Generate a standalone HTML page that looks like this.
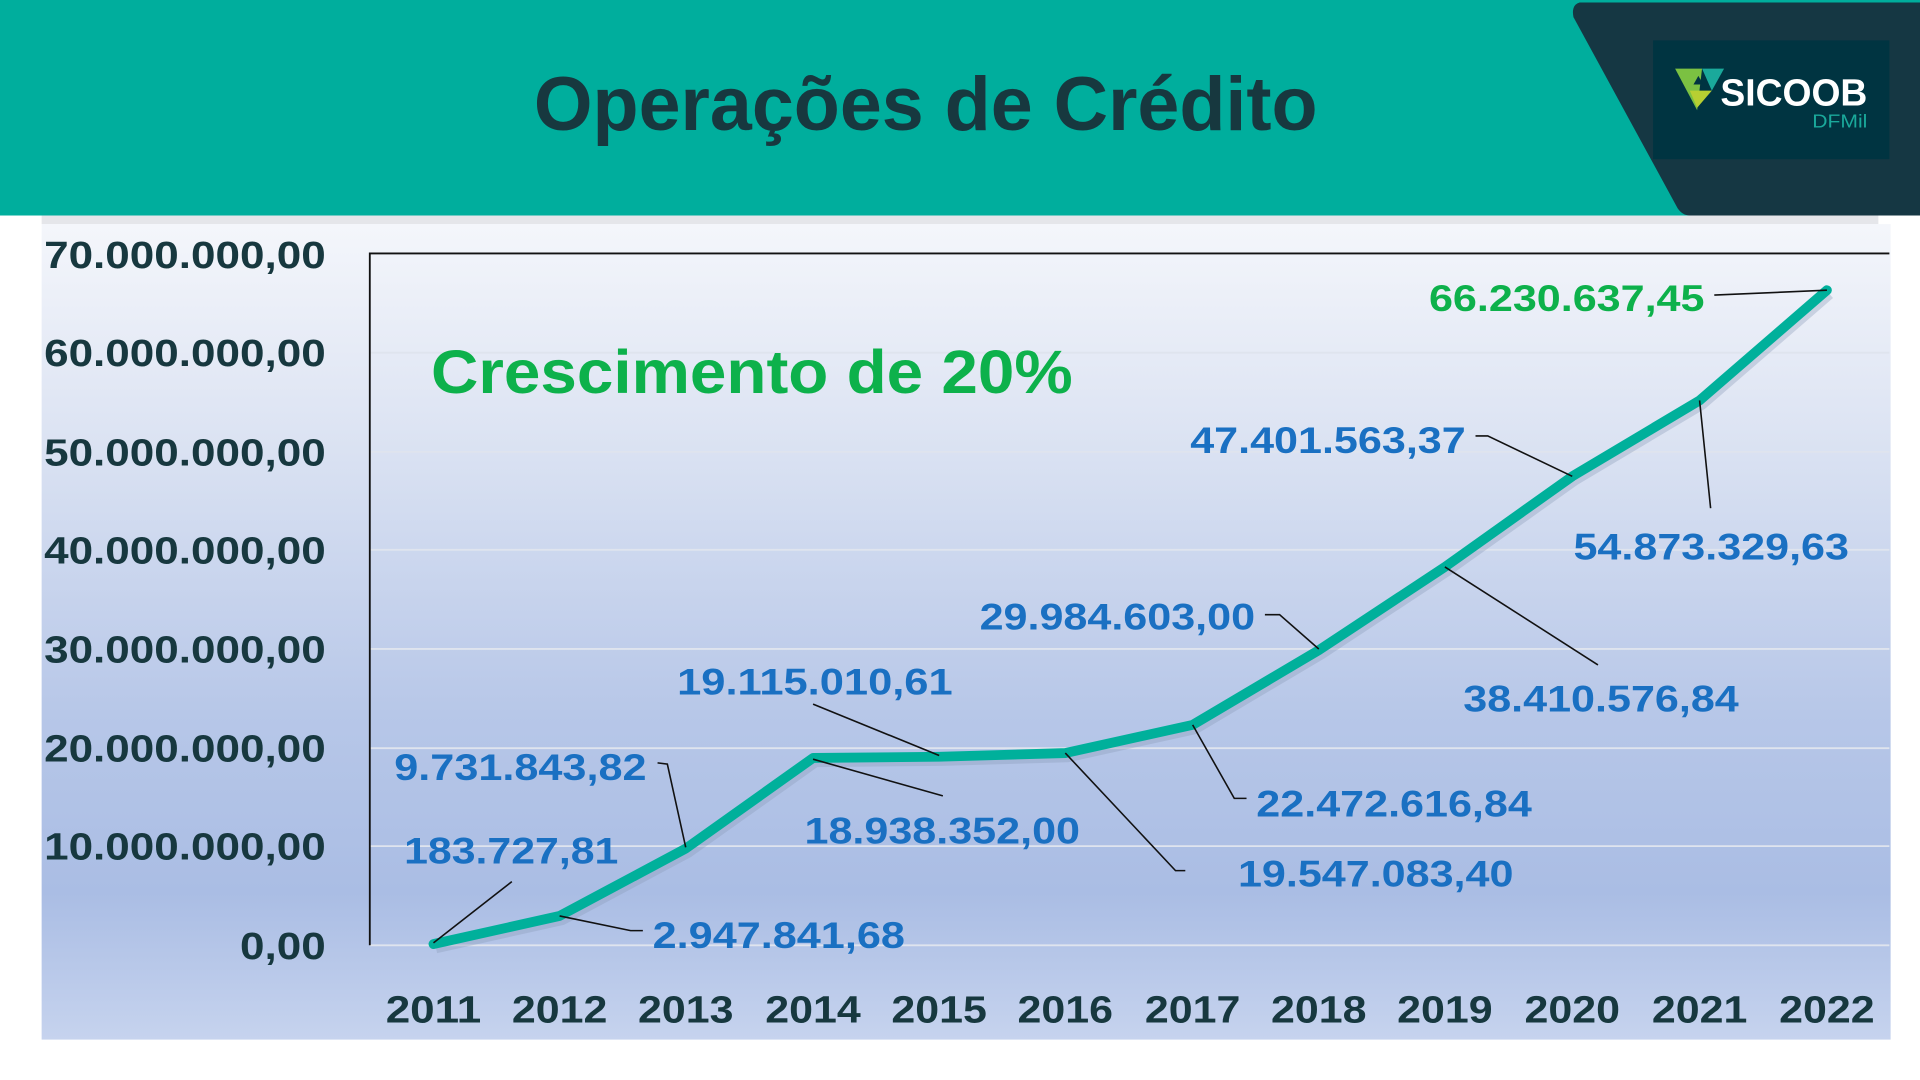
<!DOCTYPE html>
<html><head><meta charset="utf-8"><style>
html,body{margin:0;padding:0;background:#fff;width:1920px;height:1080px;overflow:hidden}
svg{display:block}
text{font-family:"Liberation Sans",sans-serif;font-weight:bold}
</style></head><body>
<svg width="1920" height="1080" viewBox="0 0 1568 882" preserveAspectRatio="none" xmlns="http://www.w3.org/2000/svg">
<defs>
<linearGradient id="bg" x1="0" y1="0" x2="0" y2="1">
<stop offset="0" stop-color="#f4f6fb"/>
<stop offset="0.25" stop-color="#dde4f3"/>
<stop offset="0.6" stop-color="#b7c7e8"/>
<stop offset="0.82" stop-color="#aabde4"/>
<stop offset="1" stop-color="#c6d3ee"/>
</linearGradient>
</defs>
<rect x="0" y="0" width="1568" height="882" fill="#fff"/>
<rect x="0" y="0" width="1568" height="176" fill="#00ae9d"/>
<path d="M1290,2 L1568,2 L1568,176 L1380,176 Q1374,176 1370,170 L1285,14 Q1283,4 1290,2 Z" fill="#153743"/>
<rect x="1350" y="33" width="193" height="97" fill="#003441"/>
<polygon points="1368,56 1390,56 1386,90" fill="#7bc142"/>
<polygon points="1390,56 1408,56 1398,74" fill="#1aa99b"/>
<polygon points="1386,88 1398,74 1380,74" fill="#b7cf32"/>
<polygon points="1383,69 1391,69 1387,62" fill="#003441"/>
<text x="1405" y="86" font-size="31" fill="#ffffff" textLength="120" lengthAdjust="spacingAndGlyphs">SICOOB</text>
<text x="1480" y="104" font-size="15" fill="#1aa99b" style="font-weight:normal" textLength="45" lengthAdjust="spacingAndGlyphs">DFMil</text>
<text x="756" y="106" font-size="62" fill="#17383f" text-anchor="middle" textLength="640" lengthAdjust="spacingAndGlyphs">Operações de Crédito</text>
<rect x="34" y="176" width="1500" height="7" fill="#e5e6ea"/>
<rect x="34" y="183" width="1510" height="666" fill="url(#bg)"/>
<g stroke="#dfe4ee" stroke-width="1.5">
<line x1="302" y1="288" x2="1543" y2="288"/>
<line x1="302" y1="369" x2="1543" y2="369"/>
<line x1="302" y1="449" x2="1543" y2="449"/>
<line x1="302" y1="530" x2="1543" y2="530"/>
<line x1="302" y1="611" x2="1543" y2="611"/>
<line x1="302" y1="691" x2="1543" y2="691"/>
<line x1="302" y1="772" x2="1543" y2="772"/>
</g>
<polyline points="302,772 302,207 1543,207" fill="none" stroke="#111" stroke-width="1.5"/>
<g font-size="31" fill="#17383f" text-anchor="end">
<text x="266" y="219" textLength="230" lengthAdjust="spacingAndGlyphs">70.000.000,00</text>
<text x="266" y="299" textLength="230" lengthAdjust="spacingAndGlyphs">60.000.000,00</text>
<text x="266" y="380" textLength="230" lengthAdjust="spacingAndGlyphs">50.000.000,00</text>
<text x="266" y="460" textLength="230" lengthAdjust="spacingAndGlyphs">40.000.000,00</text>
<text x="266" y="541" textLength="230" lengthAdjust="spacingAndGlyphs">30.000.000,00</text>
<text x="266" y="622" textLength="230" lengthAdjust="spacingAndGlyphs">20.000.000,00</text>
<text x="266" y="702" textLength="230" lengthAdjust="spacingAndGlyphs">10.000.000,00</text>
<text x="266" y="783" textLength="70" lengthAdjust="spacingAndGlyphs">0,00</text>
</g>
<g font-size="31" fill="#17383f" text-anchor="middle">
<text x="354" y="835" textLength="78" lengthAdjust="spacingAndGlyphs">2011</text>
<text x="457" y="835" textLength="78" lengthAdjust="spacingAndGlyphs">2012</text>
<text x="560" y="835" textLength="78" lengthAdjust="spacingAndGlyphs">2013</text>
<text x="664" y="835" textLength="78" lengthAdjust="spacingAndGlyphs">2014</text>
<text x="767" y="835" textLength="78" lengthAdjust="spacingAndGlyphs">2015</text>
<text x="870" y="835" textLength="78" lengthAdjust="spacingAndGlyphs">2016</text>
<text x="974" y="835" textLength="78" lengthAdjust="spacingAndGlyphs">2017</text>
<text x="1077" y="835" textLength="78" lengthAdjust="spacingAndGlyphs">2018</text>
<text x="1180" y="835" textLength="78" lengthAdjust="spacingAndGlyphs">2019</text>
<text x="1284" y="835" textLength="78" lengthAdjust="spacingAndGlyphs">2020</text>
<text x="1388" y="835" textLength="78" lengthAdjust="spacingAndGlyphs">2021</text>
<text x="1492" y="835" textLength="78" lengthAdjust="spacingAndGlyphs">2022</text>
</g>
<polyline points="354,771 457,748 560,693 664,619 767,618 870,615 974,592 1077,531 1180,463 1284,389 1388,327 1492,237" fill="none" stroke="#8a9bb8" stroke-opacity="0.35" stroke-width="9" stroke-linejoin="round" transform="translate(2,3)"/>
<polyline points="354,771 457,748 560,693 664,619 767,618 870,615 974,592 1077,531 1180,463 1284,389 1388,327 1492,237" fill="none" stroke="#00b09b" stroke-width="8" stroke-linejoin="round" stroke-linecap="round"/>
<g stroke="#111" stroke-width="1.3" fill="none">
<line x1="418" y1="720" x2="354" y2="770"/>
<polyline points="537,623 545,624 560,692"/>
<polyline points="525,760 515,760 457,748"/>
<line x1="664" y1="575" x2="767" y2="617"/>
<line x1="770" y1="650" x2="664" y2="620"/>
<polyline points="968,711 960,711 870,615"/>
<polyline points="1018,652 1008,652 974,592"/>
<polyline points="1033,502 1045,502 1077,530"/>
<line x1="1305" y1="543" x2="1180" y2="463"/>
<polyline points="1205,356 1215,356 1284,389"/>
<line x1="1397" y1="415" x2="1388" y2="327"/>
<line x1="1400" y1="241" x2="1492" y2="237"/>
</g>
<g font-size="30" fill="#1a70c2">
<text x="330" y="705" textLength="175" lengthAdjust="spacingAndGlyphs">183.727,81</text>
<text x="322" y="637" textLength="206" lengthAdjust="spacingAndGlyphs">9.731.843,82</text>
<text x="533" y="774" textLength="206" lengthAdjust="spacingAndGlyphs">2.947.841,68</text>
<text x="553" y="567" textLength="225" lengthAdjust="spacingAndGlyphs">19.115.010,61</text>
<text x="657" y="689" textLength="225" lengthAdjust="spacingAndGlyphs">18.938.352,00</text>
<text x="1011" y="724" textLength="225" lengthAdjust="spacingAndGlyphs">19.547.083,40</text>
<text x="1026" y="667" textLength="225" lengthAdjust="spacingAndGlyphs">22.472.616,84</text>
<text x="800" y="514" textLength="225" lengthAdjust="spacingAndGlyphs">29.984.603,00</text>
<text x="1195" y="581" textLength="225" lengthAdjust="spacingAndGlyphs">38.410.576,84</text>
<text x="972" y="370" textLength="225" lengthAdjust="spacingAndGlyphs">47.401.563,37</text>
<text x="1285" y="457" textLength="225" lengthAdjust="spacingAndGlyphs">54.873.329,63</text>
</g>
<text x="1167" y="254" font-size="30" fill="#0db14b" textLength="225" lengthAdjust="spacingAndGlyphs">66.230.637,45</text>
<text x="352" y="321" font-size="50" fill="#0db14b" textLength="524" lengthAdjust="spacingAndGlyphs">Crescimento de 20%</text>
</svg>
</body></html>
